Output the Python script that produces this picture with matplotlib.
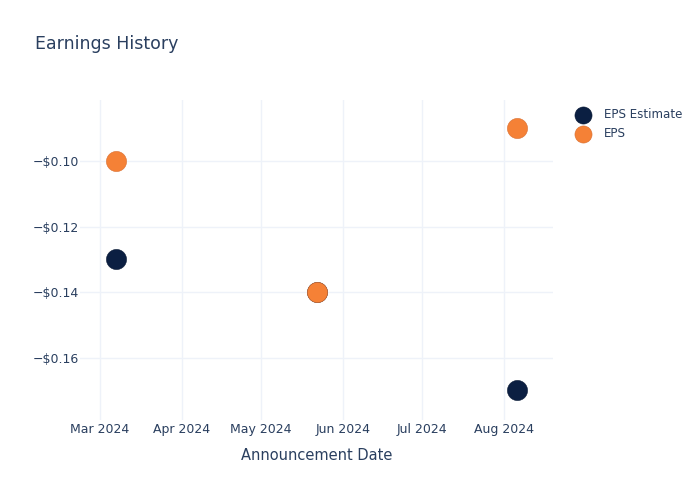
import matplotlib
matplotlib.use("Agg")
import matplotlib.pyplot as plt
import matplotlib.dates as mdates
import matplotlib.ticker as mticker
import numpy as np

# data
dates = np.array(["2024-03-07", "2024-05-22", "2024-08-06"], dtype="datetime64[D]")
eps_estimate = [-0.13, -0.14, -0.17]
eps_actual = [-0.10, -0.14, -0.09]
series_names = ["EPS Estimate", "EPS"]

navy = "#0b1f42"
orange = "#f58136"
text_col = "#2a3f5f"
grid_col = "#eef2f9"

plt.rcParams['font.family'] = ['DejaVu Sans']

fig = plt.figure(figsize=(7, 5), dpi=100)
ax = fig.add_axes([80/700, 80/500, 473/700, 320/500])

ax.scatter(dates.astype("O"), eps_estimate, s=210, color=navy, edgecolors="#0a1a36",
           linewidths=0.4, zorder=3, label=series_names[0])
ax.scatter(dates.astype("O"), eps_actual, s=210, color=orange, edgecolors="#d86e30",
           linewidths=0.4, zorder=4, label=series_names[1])

ax.set_xlim(np.datetime64("2024-02-22T10").astype("O"), np.datetime64("2024-08-19T12").astype("O"))
ax.set_ylim(-0.1790, -0.0814)

ax.xaxis.set_major_locator(mdates.MonthLocator())
ax.xaxis.set_major_formatter(mdates.DateFormatter("%b %Y"))
ax.yaxis.set_major_locator(mticker.FixedLocator([-0.16, -0.14, -0.12, -0.10]))
ax.yaxis.set_major_formatter(mticker.FuncFormatter(lambda v, p: "\u2212$%.2f" % abs(v)))

for s in ax.spines.values():
    s.set_visible(False)
ax.grid(True, color=grid_col, linewidth=1)
ax.set_axisbelow(True)
ax.tick_params(length=0, labelsize=9, colors=text_col)
ax.tick_params(axis="x", pad=2)
ax.tick_params(axis="y", pad=1)

ax.set_xlabel("Announcement Date", fontsize=10.5, color=text_col, labelpad=9)
fig.text(35/700, 1 - 44/500, "Earnings History", fontsize=12.5, color=text_col, va="center")

leg = fig.legend(loc="upper left", bbox_to_anchor=(566/700, 1 - 103/500), frameon=False,
                 fontsize=8.6, labelcolor=text_col, handletextpad=0.75, labelspacing=0.5,
                 markerscale=0.85, borderaxespad=0)

fig.savefig("out.png", dpi=100)
